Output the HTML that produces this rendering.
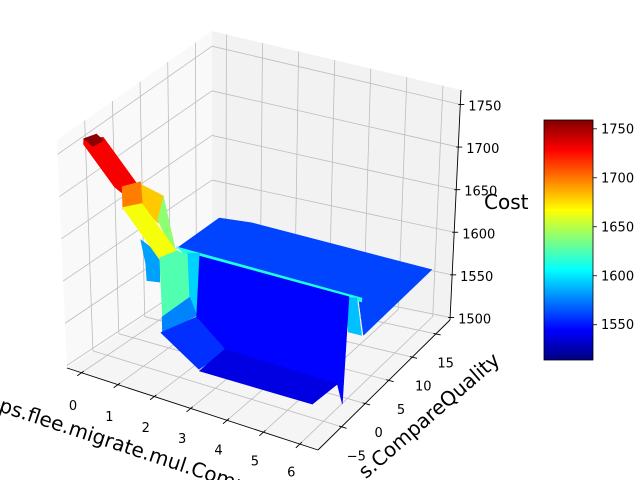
<!DOCTYPE html>
<html><head><meta charset="utf-8"><style>
html,body{margin:0;padding:0;background:#fff;overflow:hidden;width:640px;height:480px;}
svg{display:block;overflow:hidden;font-family:"DejaVu Sans","Liberation Sans",sans-serif;}
</style></head><body>
<svg id="chart" width="640" height="480" viewBox="0 0 640 480">
<defs><linearGradient id="jetgrad" x1="0" y1="1" x2="0" y2="0"></linearGradient></defs>
<g id="panes"></g>
<g id="grid"></g>
<g id="axes"></g>
<g id="surface"></g>
<g id="labels"></g>
<text x="-2" y="411" font-size="20" transform="rotate(18.3 -2 411)">ps.flee.migrate.mul.Comp</text>
<text x="501" y="362" font-size="20" text-anchor="end" transform="rotate(-41 501 362)">s.CompareQuality</text>
<text x="484" y="209" font-size="20">Cost</text>
<g id="colorbar"></g>
</svg>
<script>
const XMIN=-0.4, XMAX=6.5, YMIN=-10, YMAX=18, ZMIN=1497, ZMAX=1767;
const VMIN=1514, VMAX=1759;
const xTicks=[0,1,2,3,4,5,6];
const yTicks=[-5,0,5,10,15];
const zTicks=[1500,1550,1600,1650,1700,1750];
const cbTicks=[1550,1600,1650,1700,1750];
// surface patches: cost level + x/y vertex coordinates
const patchZ=[1730,1756,1680,1640,1698,1583,1665,1561,1613,1625,1595,1576,1591,1545,1556,1538];
const patchX=[
[-0.79,-0.47,1.52,1.27,1.00,-0.65],
[-0.20,-0.09,0.205,0.16],
[0.31,1.07,1.64,0.96],
[0.15,1.74,2.60,1.78,0.67],
[0.44,0.66,1.31,1.01],
[-0.51,0.30,1.05,0.76,0.29],
[0.247,0.51,2.41,2.26],
[-0.10,-0.14,0.72,6.11,6.09,5.13],
[1.13,6.17,6.25,1.44],
[1.36,1.51,1.85,3.08,3.04],
[1.11,1.36,2.94,2.34],
[1.84,1.88,2.48,2.26],
[5.44,5.66,6.58,6.23],
[0.19,4.56,6.84,6.33,3.29,1.84],
[1.78,2.08,3.52,3.40],
[3.10,3.08,6.20,6.11]];
const patchY=[
[-2.74,-1.34,-8.16,-9.89,-9.36,-3.72],
[-6.60,-5.05,-5.77,-7.39],
[-0.04,-0.91,-5.92,-4.21],
[5.25,-3.56,-6.70,-4.27,0.63],
[-4.24,-2.31,-6.48,-8.08],
[5.28,3.43,-1.84,-2.28,0.78],
[-2.97,-1.17,-7.73,-9.99],
[9.67,17.66,18.08,16.48,2.49,8.54],
[0.90,1.42,0.75,0.12],
[-3.87,-1.61,-1.89,-10.16,-15.3],
[3.19,3.76,-7.96,-5.09],
[-6.99,-1.88,-4.76,-9.92],
[3.74,4.20,-1.66,-1.78],
[11.7,10.76,-7.54,-4.68,-4.79,-0.32],
[-6.86,-2.08,-6.47,-11.1],
[-8.84,-3.64,-3.71,-8.24]];

const NS="http://www.w3.org/2000/svg";
function projN(u,v,w){
  const fx=67+251*u+145*v-13*u*v, fy=368+82*u-96*v-34*u*v;
  const lx=-10+11*u+10*v, ly=-228+11*u-13*v;
  return [fx+w*lx, fy+w*ly];
}
const U=x=>(x-XMIN)/(XMAX-XMIN), V=y=>(y-YMIN)/(YMAX-YMIN), W=z=>(z-ZMIN)/(ZMAX-ZMIN);
function proj(x,y,z){return projN(U(x),V(y),W(z));}
function clip(a){return Math.max(0,Math.min(1,a));}
function jet(val){
  const t=clip((val-VMIN)/(VMAX-VMIN));
  const r=clip(1.5-Math.abs(4*t-3)), g=clip(1.5-Math.abs(4*t-2)), b=clip(1.5-Math.abs(4*t-1));
  return `rgb(${Math.round(r*255)},${Math.round(g*255)},${Math.round(b*255)})`;
}
function mk(tag,attrs,parent){const e=document.createElementNS(NS,tag);for(const k in attrs)e.setAttribute(k,attrs[k]);parent.appendChild(e);return e;}
function pts(a){return a.map(p=>p[0].toFixed(1)+','+p[1].toFixed(1)).join(' ');}

const panes=document.getElementById('panes');
let e;
e=mk('polygon',{points:pts([projN(0,0,0),projN(0,1,0),projN(0,1,1),projN(0,0,1)]),fill:'#f9f9f9'},panes);


e=mk('polygon',{points:pts([projN(0,1,0),projN(1,1,0),projN(1,1,1),projN(0,1,1)]),fill:'#f2f2f2'},panes);


e=mk('polygon',{points:pts([projN(0,0,0),projN(1,0,0),projN(1,1,0),projN(0,1,0)]),fill:'#f5f5f5'},panes);



const grid=document.getElementById('grid');
function gl(a,b,name){const l=mk('line',{x1:a[0],y1:a[1],x2:b[0],y2:b[1],stroke:'#bdbdbd','stroke-width':0.8},grid);

}
yTicks.forEach(y=>{gl(projN(0,V(y),0),projN(0,V(y),1),'grid-y-left');gl(projN(0,V(y),0),projN(1,V(y),0),'grid-y-floor');});
xTicks.forEach(x=>{gl(projN(U(x),1,0),projN(U(x),1,1),'grid-x-back');gl(projN(U(x),0,0),projN(U(x),1,0),'grid-x-floor');});
zTicks.forEach(z=>{gl(projN(0,0,W(z)),projN(0,1,W(z)),'grid-z-left');gl(projN(0,1,W(z)),projN(1,1,W(z)),'grid-z-back');});

const axes=document.getElementById('axes');
function al(a,b,name,w){const l=mk('line',{x1:a[0],y1:a[1],x2:b[0],y2:b[1],stroke:'#000','stroke-width':w||0.9},axes);

}
al(projN(0,0,0),projN(1,0,0),'x-axis-line');
al(projN(1,0,0),projN(1,1,0),'y-axis-line');
al(projN(1,1,0),projN(1,1,1),'z-axis-line');
xTicks.forEach(x=>al(projN(U(x),-0.03,0),projN(U(x),0.015,0),'x-tick'));
yTicks.forEach(y=>al(projN(1.02,V(y),0),projN(0.99,V(y),0),'y-tick'));
zTicks.forEach(z=>{const p=proj(XMAX,YMAX,z);al([p[0]-2,p[1]],[p[0]+4,p[1]],'z-tick');});

const surf=document.getElementById('surface');
patchZ.forEach((z,i)=>{
  const P=patchX[i].map((x,j)=>proj(x,patchY[i][j],z));
  const c=jet(z);
  const p=mk('polygon',{points:pts(P),fill:c,stroke:c,'stroke-width':0.6,'stroke-linejoin':'round'},surf);
  
  
});

const labels=document.getElementById('labels');
function tx(x,y,s,anchor,name){const t=mk('text',{x:x,y:y,'font-size':13,'text-anchor':anchor,'dominant-baseline':'central'},labels);t.textContent=s;

}
const fmt=n=>n<0?'\u2212'+Math.abs(n):String(n);
xTicks.forEach(x=>{const p=proj(x,YMIN,ZMIN);const u=U(x);tx(p[0]-8.5,p[1]+34-5.4*u,fmt(x),'middle','x-tick-label');});
yTicks.forEach(y=>{const p=proj(XMAX,y,ZMIN);const v=V(y);tx(p[0]+16-7*v,p[1]+30,fmt(y),'middle','y-tick-label');});
zTicks.forEach(z=>{const p=proj(XMAX,YMAX,z);tx(p[0]+8,p[1]+2.5,fmt(z),'start','z-tick-label');});

// colorbar
const grad=document.getElementById('jetgrad');
for(let i=0;i<=40;i++){const v=VMIN+(VMAX-VMIN)*i/40;mk('stop',{offset:(i/40*100)+'%','stop-color':jet(v)},grad);}
const cb=document.getElementById('colorbar');
const CBX=544,CBY=120,CBW=49,CBH=240;
e=mk('rect',{x:CBX,y:CBY,width:CBW,height:CBH,fill:'url(#jetgrad)',stroke:'#000','stroke-width':0.8},cb);


cbTicks.forEach(v=>{const y=CBY+CBH-(v-VMIN)/(VMAX-VMIN)*CBH;
  const l=mk('line',{x1:CBX+CBW,y1:y,x2:CBX+CBW+4,y2:y,stroke:'#000','stroke-width':0.8},cb);
  
  
  const t=mk('text',{x:CBX+CBW+8,y:y+1,'font-size':13,'dominant-baseline':'central'},cb);t.textContent=String(v);
  
  
});
</script>
</body></html>
